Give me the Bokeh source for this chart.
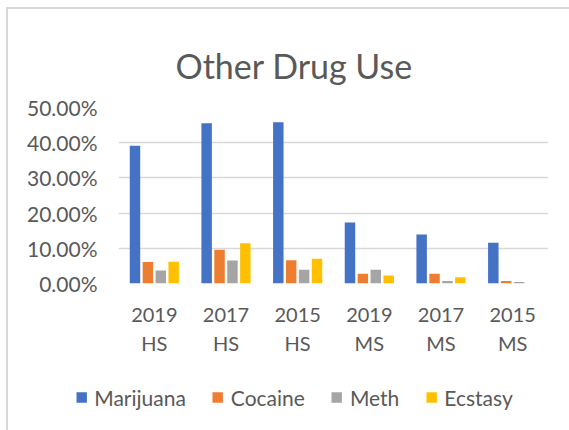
from bokeh.plotting import figure
from bokeh.layouts import column
from bokeh.models import (FactorRange, Range1d, Legend, LegendItem, NumeralTickFormatter,
                          FixedTicker, ColumnDataSource, Label)
from bokeh.transform import dodge
from bokeh.embed import file_html
from bokeh.resources import INLINE

title_text = "Other Drug Use"
categories = ["2019\nHS", "2017\nHS", "2015\nHS", "2019\nMS", "2017\nMS", "2015\nMS"]
marijuana = [0.391, 0.455, 0.458, 0.173, 0.139, 0.116]
cocaine = [0.061, 0.096, 0.066, 0.028, 0.028, 0.007]
meth = [0.037, 0.065, 0.039, 0.039, 0.007, 0.004]
ecstasy = [0.062, 0.114, 0.070, 0.023, 0.018, 0.0]
series_names = ["Marijuana", "Cocaine", "Meth", "Ecstasy"]
colors = ["#4472C4", "#ED7D31", "#A5A5A5", "#FFC000"]
y_ticks = [0, 0.1, 0.2, 0.3, 0.4, 0.5]

FONT = "Lato"
TXT = "#595959"

source = ColumnDataSource(data=dict(cat=categories, Marijuana=marijuana, Cocaine=cocaine,
                                    Meth=meth, Ecstasy=ecstasy))

# ---- title strip ----
tp = figure(x_range=Range1d(0, 1), y_range=Range1d(0, 1), width=561, height=78,
            output_backend="svg", toolbar_location=None,
            min_border_left=0, min_border_right=0, min_border_top=0, min_border_bottom=0)
tp.frame_align = False
tp.axis.visible = False
tp.grid.visible = False
tp.outline_line_color = None
tp.add_layout(Label(x=167, y=22, x_units="screen", y_units="screen", text=title_text,
                    text_font=FONT, text_font_size="34px", text_color=TXT,
                    text_align="left", text_baseline="alphabetic"))

# ---- main chart ----
p = figure(x_range=FactorRange(*categories), y_range=Range1d(0, 0.5),
           width=561, height=274, output_backend="svg", toolbar_location=None,
           min_border_left=110, min_border_right=21, min_border_top=20, min_border_bottom=78)
p.frame_align = False
p.outline_line_color = None

offsets = [-0.27, -0.09, 0.09, 0.27]
for name, col, off in zip(series_names, colors, offsets):
    p.vbar(x=dodge("cat", off, range=p.x_range), top=name, width=0.146,
           source=source, fill_color=col, line_color=None)

p.xgrid.grid_line_color = None
p.ygrid.grid_line_color = "#d9d9d9"
p.ygrid.grid_line_width = 1.5
p.ygrid.ticker = FixedTicker(ticks=y_ticks)

p.yaxis.ticker = FixedTicker(ticks=y_ticks)
p.yaxis.formatter = NumeralTickFormatter(format="0.00%")
for ax in (p.xaxis[0], p.yaxis[0]):
    ax.axis_line_color = None
    ax.major_tick_line_color = None
    ax.minor_tick_line_color = None
    ax.major_label_text_font = FONT
    ax.major_label_text_color = TXT
p.yaxis.major_label_text_font_size = "21px"
p.xaxis.major_label_text_font_size = "20px"
p.yaxis.major_label_standoff = 15
p.xaxis.major_label_standoff = 12
p.xaxis.major_label_text_line_height = 1.21

# ---- legend strip (its renderers are hidden; only the legend is drawn) ----
lp = figure(x_range=FactorRange(*categories), y_range=Range1d(0, 0.5),
            width=561, height=69, output_backend="svg", toolbar_location=None,
            min_border_left=10, min_border_right=0, min_border_top=3, min_border_bottom=0)
lp.frame_align = False
lp.axis.visible = False
lp.grid.visible = False
lp.outline_line_color = None
items = []
for name, col, off in zip(series_names, colors, offsets):
    r = lp.vbar(x=dodge("cat", off, range=lp.x_range), top=name, width=0.146,
                source=source, fill_color=col, line_color=None, visible=False)
    items.append(LegendItem(label=name, renderers=[r]))

legend = Legend(items=items, orientation="horizontal", location="center")
legend.label_text_font = FONT
legend.label_text_font_size = "21px"
legend.label_text_color = TXT
legend.glyph_width = 13
legend.glyph_height = 13
legend.label_standoff = 7
legend.spacing = 25
legend.padding = 0
legend.margin = 0
legend.border_line_color = None
legend.background_fill_alpha = 0
lp.add_layout(legend, "center")

layout = column(tp, p, lp, spacing=0)
layout.styles = {"margin-left": "6px", "margin-top": "7px",
                 "border-left": "2px solid #d9d9d9", "border-top": "2px solid #d9d9d9"}

open("out.html", "w").write(file_html(layout, INLINE))
